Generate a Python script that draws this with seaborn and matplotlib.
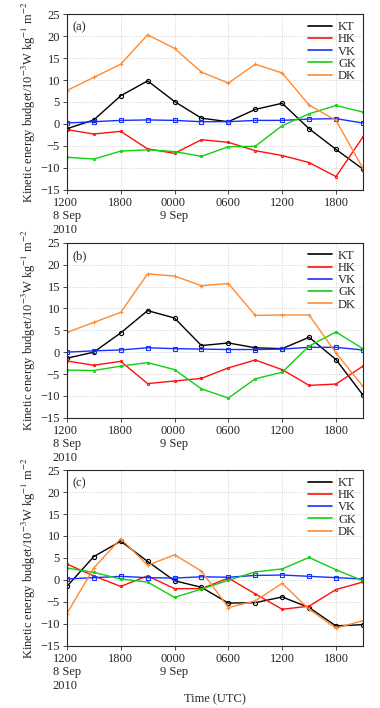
import numpy as np
import pandas as pd
import matplotlib
matplotlib.use("Agg")
import matplotlib.pyplot as plt
from matplotlib.lines import Line2D
import seaborn as sns

# hours since 1200 UTC 8 Sep 2010, every 3 h
hours = [0, 3, 6, 9, 12, 15, 18, 21, 24, 27, 30, 33]
tick_hours = [0, 6, 12, 18, 24, 30]
tick_labels = ["1200\n8 Sep\n2010", "1800", "0000\n9 Sep", "0600", "1200", "1800"]
terms = ["KT", "HK", "VK", "GK", "DK"]
panel_names = ["(a)", "(b)", "(c)"]

kt_a = [-1.1, 0.9, 6.4, 9.8, 5.1, 1.3, 0.5, 3.3, 4.7, -1.1, -5.8, -10.3]
hk_a = [-1.3, -2.3, -1.7, -5.7, -6.7, -3.6, -4.2, -6.1, -7.2, -8.8, -12.0, -3.0]
vk_a = [0.2, 0.5, 0.8, 0.9, 0.8, 0.5, 0.5, 0.8, 0.8, 1.1, 1.2, 0.2]
gk_a = [-7.6, -8.0, -6.2, -5.9, -6.3, -7.4, -5.2, -5.1, -0.4, 2.3, 4.2, 2.7]
dk_a = [7.6, 10.6, 13.6, 20.3, 17.2, 11.8, 9.3, 13.6, 11.6, 4.3, 0.8, -10.1]

kt_b = [-1.4, 0.0, 4.4, 9.5, 7.8, 1.5, 2.1, 1.0, 0.8, 3.4, -1.7, -9.8]
hk_b = [-2.0, -3.0, -2.1, -7.2, -6.6, -6.0, -3.6, -1.8, -4.0, -7.6, -7.3, -3.2]
vk_b = [0.0, 0.3, 0.5, 1.0, 0.8, 0.7, 0.6, 0.6, 0.7, 1.1, 1.1, 0.5]
gk_b = [-4.1, -4.2, -3.2, -2.4, -4.0, -8.4, -10.5, -6.1, -4.6, 1.4, 4.6, 0.8]
dk_b = [4.5, 6.8, 9.1, 17.9, 17.4, 15.2, 15.7, 8.4, 8.5, 8.5, -0.2, -7.8]

kt_c = [-1.5, 5.3, 8.8, 4.2, -0.2, -1.7, -5.3, -5.2, -3.9, -6.3, -10.5, -10.2]
hk_c = [3.6, 0.9, -1.5, 0.9, -2.0, -2.0, 0.4, -3.2, -6.7, -6.0, -2.2, -0.5]
vk_c = [0.2, 0.5, 0.8, 0.5, 0.4, 0.7, 0.6, 1.0, 1.1, 0.8, 0.5, 0.2]
gk_c = [2.7, 1.7, 0.2, -0.5, -4.0, -2.1, -0.1, 1.8, 2.5, 5.1, 2.3, -0.2]
dk_c = [-7.7, 2.7, 9.4, 3.3, 5.7, 2.0, -6.3, -4.8, -0.8, -6.7, -11.0, -9.3]

panels = [
    [kt_a, hk_a, vk_a, gk_a, dk_a],
    [kt_b, hk_b, vk_b, gk_b, dk_b],
    [kt_c, hk_c, vk_c, gk_c, dk_c],
]

colors = {"KT": "black", "HK": "#ff1010", "VK": "#1530ff", "GK": "#10d010", "DK": "#ff8a30"}
markers = {"KT": "o", "HK": ".", "VK": "s", "GK": ".", "DK": "+"}

sns.set_style("ticks")
plt.rcParams["font.family"] = ["Liberation Serif", "DejaVu Serif"]
plt.rcParams["mathtext.fontset"] = "stix"

fig = plt.figure(figsize=(3.8, 7.08), dpi=100)
boxes = [[0.176, 0.732, 0.779, 0.248],
         [0.176, 0.410, 0.779, 0.247],
         [0.176, 0.088, 0.779, 0.248]]

for i, series in enumerate(panels):
    ax = fig.add_axes(boxes[i])
    df = pd.DataFrame({"hour": hours * len(terms),
                       "value": np.concatenate(series),
                       "term": np.repeat(terms, len(hours))})
    for t in terms:
        sub = df[df["term"] == t]
        sns.lineplot(data=sub, x="hour", y="value", ax=ax, color=colors[t],
                     marker=markers[t], markersize=3, markerfacecolor="none",
                     markeredgecolor=colors[t], markeredgewidth=0.8, lw=1.0,
                     legend=False)
    ax.set_xlim(0, 33)
    ax.set_ylim(-15, 25)
    ax.set_xticks(tick_hours)
    ax.set_xticklabels(tick_labels, multialignment="left")
    ax.set_yticks(range(-15, 26, 5))
    ax.set_yticklabels([str(v).replace("-", "\u2212") for v in range(-15, 26, 5)])
    ax.tick_params(labelsize=9, length=3, width=0.6, pad=2)
    ax.grid(True, ls=":", color="#c8c8c8", lw=0.6)
    for s in ax.spines.values():
        s.set_linewidth(0.8)
    ax.set_xlabel("")
    ax.set_ylabel("Kinetic energy budget/10$^{-3}$W kg$^{-1}$ m$^{-2}$", fontsize=9, labelpad=2)
    ax.text(0.02, 0.96, panel_names[i], transform=ax.transAxes, fontsize=9, va="top", ha="left")
    handles = [Line2D([], [], color=colors[t], lw=1.2) for t in terms]
    ax.legend(handles, terms, loc="upper right", frameon=False, fontsize=9,
              handlelength=1.9, handletextpad=0.5, labelspacing=0.02,
              borderaxespad=0.25, borderpad=0.3)

ax.set_xlabel("Time (UTC)", fontsize=9, labelpad=1)

fig.savefig("out.png", dpi=100)
